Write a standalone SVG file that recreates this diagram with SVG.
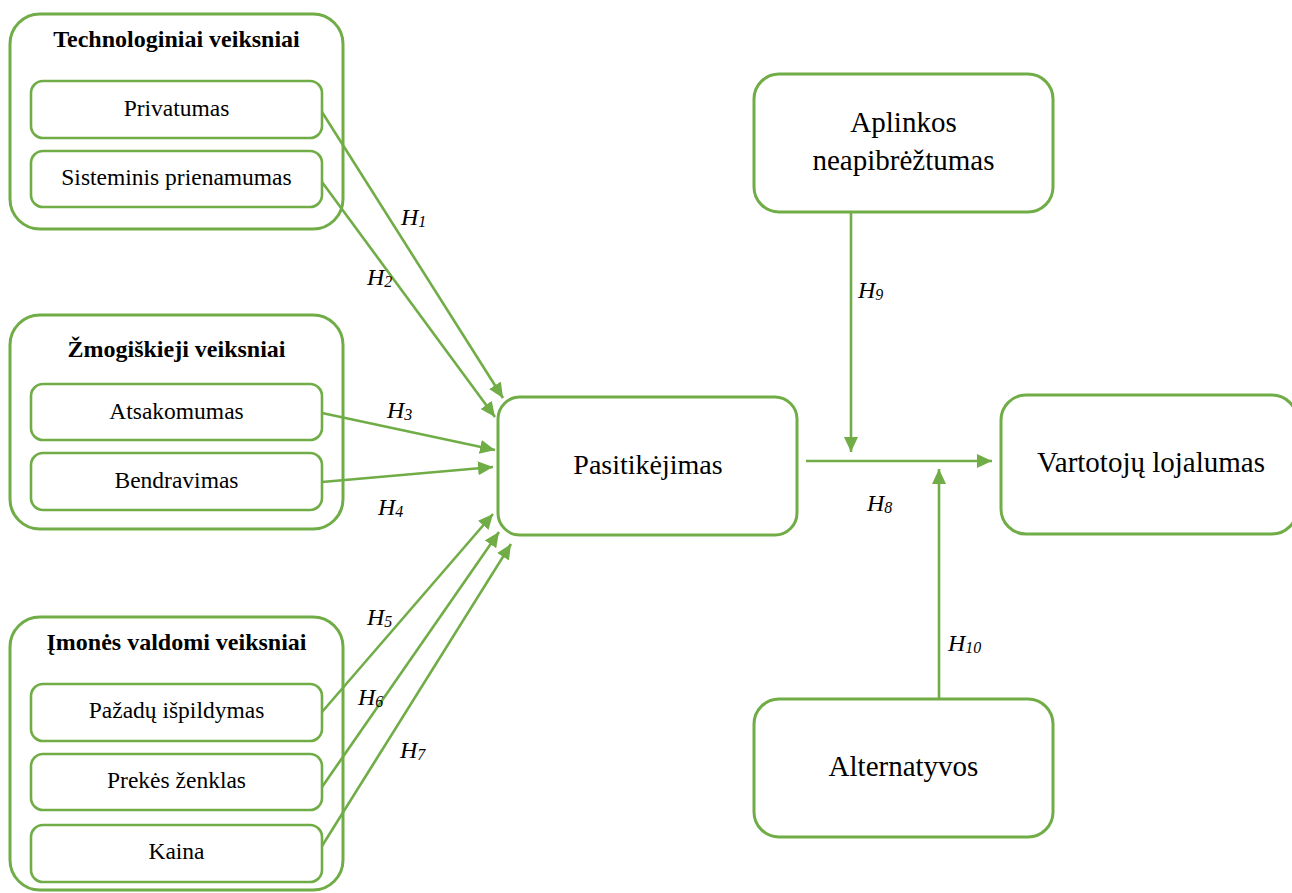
<svg xmlns="http://www.w3.org/2000/svg" width="1292" height="893" viewBox="0 0 1292 893">
<style>
.outer{fill:none;stroke:#70AD47;stroke-width:3}
.inner{fill:#fff;stroke:#70AD47;stroke-width:2.6}
.big{fill:#fff;stroke:#70AD47;stroke-width:3}
.t{font-family:"Liberation Serif","Times New Roman",serif;fill:#000;text-anchor:middle}
.title{font-size:24px;font-weight:bold}
.item{font-size:23.5px}
.node{font-size:29px}
.lbl{font-family:"Liberation Serif","Times New Roman",serif;font-style:italic;font-size:24px;fill:#000}
.sub{font-size:16px}
.c{stroke:#70AD47;stroke-width:2.6;fill:none;marker-end:url(#ah)}
</style>
<defs>
<marker id="ah" markerUnits="userSpaceOnUse" markerWidth="16" markerHeight="14" refX="15" refY="7" orient="auto">
<path d="M0,0 L15,7 L0,14 z" fill="#70AD47"/>
</marker>
</defs>
<rect width="1292" height="893" fill="#fff"/>

<g id="tech">
<rect class="outer" x="10" y="14" width="333" height="215" rx="30"/>
<text class="t title" x="176.5" y="47">Technologiniai veiksniai</text>
</g>
<g id="privatumas">
<rect class="inner" x="31" y="81" width="291" height="57" rx="12"/>
<text class="t item" x="176.5" y="116">Privatumas</text>
</g>
<g id="sisteminis">
<rect class="inner" x="31" y="151" width="291" height="56" rx="12"/>
<text class="t item" x="176.5" y="185">Sisteminis prienamumas</text>
</g>

<g id="zmog">
<rect class="outer" x="10" y="315" width="333" height="214" rx="30"/>
<text class="t title" x="176.5" y="357">Žmogiškieji veiksniai</text>
</g>
<g id="atsakomumas">
<rect class="inner" x="31" y="384" width="291" height="56" rx="12"/>
<text class="t item" x="176.5" y="419">Atsakomumas</text>
</g>
<g id="bendravimas">
<rect class="inner" x="31" y="453" width="291" height="57" rx="12"/>
<text class="t item" x="176.5" y="488">Bendravimas</text>
</g>

<g id="imones">
<rect class="outer" x="10" y="617" width="333" height="273" rx="30"/>
<text class="t title" x="176.5" y="650">Įmonės valdomi veiksniai</text>
</g>
<g id="pazadu">
<rect class="inner" x="31" y="684" width="291" height="57" rx="12"/>
<text class="t item" x="176.5" y="718">Pažadų išpildymas</text>
</g>
<g id="prekes">
<rect class="inner" x="31" y="754" width="291" height="56" rx="12"/>
<text class="t item" x="176.5" y="788">Prekės ženklas</text>
</g>
<g id="kaina">
<rect class="inner" x="31" y="825" width="291" height="57" rx="12"/>
<text class="t item" x="176.5" y="859">Kaina</text>
</g>

<g id="aplinkos">
<rect class="big" x="754" y="74" width="299" height="138" rx="25"/>
<text class="t node" x="903.5" y="132">Aplinkos</text>
<text class="t node" x="903.5" y="170">neapibrėžtumas</text>
</g>
<g id="pasitikejimas">
<rect class="big" x="498" y="397" width="299" height="138" rx="22"/>
<text class="t node" style="font-size:28px" x="648" y="474">Pasitikėjimas</text>
</g>
<g id="vartotoju">
<rect class="big" x="1001" y="395" width="296" height="139" rx="25"/>
<text class="t node" x="1151" y="472">Vartotojų lojalumas</text>
</g>
<g id="alternatyvos">
<rect class="big" x="754" y="699" width="299" height="138" rx="25"/>
<text class="t node" x="903.5" y="776">Alternatyvos</text>
</g>

<g id="connectors">
<line class="c" x1="322" y1="112" x2="503" y2="398"/>
<line class="c" x1="322" y1="182" x2="495" y2="417"/>
<line class="c" x1="322" y1="413" x2="495" y2="450"/>
<line class="c" x1="322" y1="482" x2="493" y2="467"/>
<line class="c" x1="322" y1="712" x2="493" y2="514"/>
<line class="c" x1="322" y1="787" x2="499" y2="532"/>
<line class="c" x1="322" y1="846" x2="511" y2="544"/>
<line class="c" x1="851" y1="212" x2="851" y2="452"/>
<line class="c" x1="806" y1="461" x2="992" y2="461"/>
<line class="c" x1="939" y1="699" x2="939" y2="469"/>
<text class="lbl" x="401" y="225">H<tspan class="sub" dy="2">1</tspan></text>
<text class="lbl" x="367" y="285">H<tspan class="sub" dy="2">2</tspan></text>
<text class="lbl" x="387" y="418">H<tspan class="sub" dy="2">3</tspan></text>
<text class="lbl" x="378" y="515">H<tspan class="sub" dy="2">4</tspan></text>
<text class="lbl" x="367" y="625">H<tspan class="sub" dy="2">5</tspan></text>
<text class="lbl" x="358" y="705">H<tspan class="sub" dy="2">6</tspan></text>
<text class="lbl" x="400" y="758">H<tspan class="sub" dy="2">7</tspan></text>
<text class="lbl" x="867" y="511">H<tspan class="sub" dy="2">8</tspan></text>
<text class="lbl" x="858" y="298">H<tspan class="sub" dy="2">9</tspan></text>
<text class="lbl" x="948" y="651">H<tspan class="sub" dy="2">10</tspan></text>
</g>
</svg>
